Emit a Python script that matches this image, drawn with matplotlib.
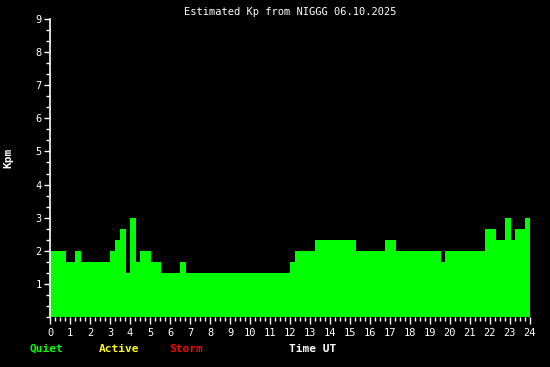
import matplotlib
matplotlib.use("Agg")
import matplotlib.pyplot as plt
import numpy as np

# start of each constant Kp segment (hours UT), the last one ends at 24
seg_start = [0, 0.8, 1.25, 1.55, 3.0, 3.25, 3.5, 3.8, 4.0, 4.3, 4.5, 5.05, 5.55,
             6.5, 6.8, 12.0, 12.25, 13.25, 15.3, 16.75, 17.3, 19.55, 19.75,
             21.75, 22.3, 22.75, 23.05, 23.25, 23.75]
seg_end = 24.0
kp = [2.0, 1.667, 2.0, 1.667, 2.0, 2.333, 2.667, 1.333, 3.0, 1.667, 2.0, 1.667,
      1.333, 1.667, 1.333, 1.667, 2.0, 2.333, 2.0, 2.333, 2.0, 1.667, 2.0,
      2.667, 2.333, 3.0, 2.333, 2.667, 3.0]

x_ticks = list(range(0, 25))
y_ticks = list(range(1, 10))

FONT = "DejaVu Sans Mono"

fig = plt.figure(figsize=(5.5, 3.67), dpi=100, facecolor="black")
ax = fig.add_axes([50 / 550, 1 - 317 / 367, 480 / 550, 298 / 367])
ax.set_facecolor("black")

edges = np.array(seg_start + [seg_end])
widths = np.diff(edges)
ax.bar(edges[:-1], kp, width=widths, align="edge", color="#00ff00",
       edgecolor="none", linewidth=0)

ax.set_xlim(0, 24)
ax.set_ylim(0, 9)

for side in ["top", "right", "bottom"]:
    ax.spines[side].set_visible(False)
ax.spines["left"].set_color("white")
ax.spines["left"].set_linewidth(1.2)

ax.set_xticks(x_ticks)
ax.set_xticklabels([str(t) for t in x_ticks], fontsize=7.5, family=FONT, color="white")
ax.set_xticks(np.arange(0, 24.01, 0.25), minor=True)
ax.set_yticks(y_ticks)
ax.set_yticklabels([str(t) for t in y_ticks], fontsize=7.5, family=FONT, color="white")
ax.set_yticks(np.arange(0, 9.01, 1 / 3), minor=True)

ax.tick_params(axis="both", which="both", colors="white", direction="out")
ax.tick_params(axis="x", which="major", length=5, width=1, pad=3)
ax.tick_params(axis="x", which="minor", length=3, width=1)
ax.tick_params(axis="y", which="major", length=4, width=1, pad=2)
ax.tick_params(axis="y", which="minor", length=3, width=1)

ax.set_ylabel("Kpm", family=FONT, fontsize=8, fontweight="bold", color="white")
ax.yaxis.set_label_coords((13 - 50) / 480, 0.535)

fig.text(290 / 550, 1 - 12 / 367, "Estimated Kp from NIGGG 06.10.2025",
         family=FONT, fontsize=7.5, color="white", ha="center", va="center")

fig.text(29 / 550, 1 - 349 / 367, "Quiet", family=FONT, fontsize=8,
         fontweight="bold", color="#00ff00", va="center")
fig.text(99 / 550, 1 - 349 / 367, "Active", family=FONT, fontsize=8,
         fontweight="bold", color="#ffff00", va="center")
fig.text(169 / 550, 1 - 349 / 367, "Storm", family=FONT, fontsize=8,
         fontweight="bold", color="#ff0000", va="center")
fig.text(289 / 550, 1 - 349 / 367, "Time UT", family=FONT, fontsize=8,
         fontweight="bold", color="white", va="center")

fig.savefig("out.png", dpi=100, facecolor="black")
